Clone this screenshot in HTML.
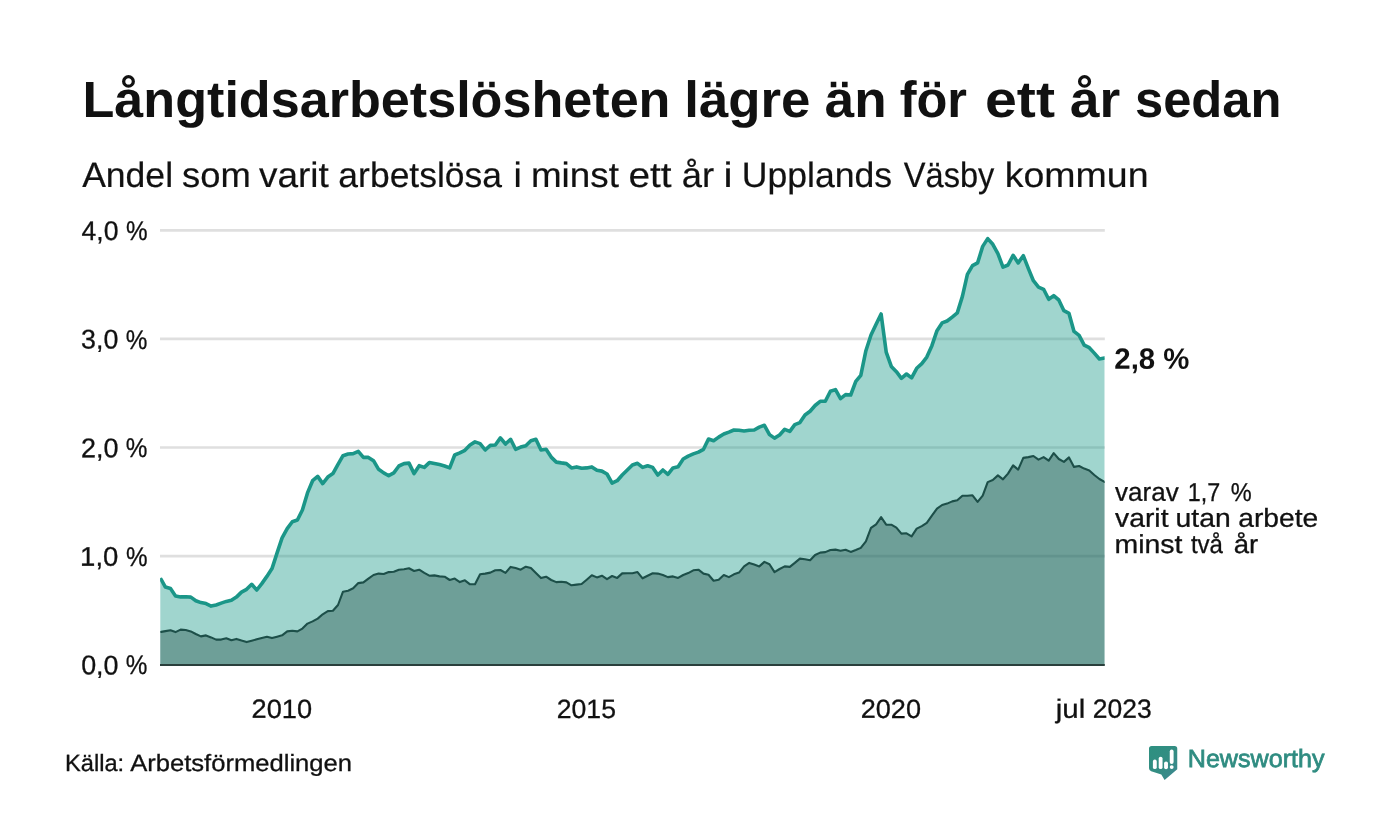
<!DOCTYPE html>
<html lang="sv">
<head>
<meta charset="utf-8">
<title>Långtidsarbetslösheten lägre än för ett år sedan</title>
<style>
html,body{margin:0;padding:0;background:#ffffff;}
body{width:1400px;height:840px;overflow:hidden;font-family:"Liberation Sans", sans-serif;}
svg{display:block;}
svg text{font-family:"Liberation Sans", sans-serif;fill:#111111;text-rendering:geometricPrecision;}
</style>
</head>
<body>
<svg width="1400" height="840" viewBox="0 0 1400 840">
<defs>
<linearGradient id="lg" x1="0" y1="0" x2="1" y2="1">
<stop offset="0" stop-color="#2d9080"/><stop offset="0.55" stop-color="#348d83"/><stop offset="1" stop-color="#3e8792"/>
</linearGradient>
<clipPath id="plot"><rect x="160.1" y="200" width="944.5" height="470"/></clipPath>
</defs>
<rect width="1400" height="840" fill="#ffffff"/>
<line x1="160" x2="1104.8" y1="556.1" y2="556.1" stroke="#dfdfdf" stroke-width="2.7"/>
<line x1="160" x2="1104.8" y1="447.5" y2="447.5" stroke="#dfdfdf" stroke-width="2.7"/>
<line x1="160" x2="1104.8" y1="338.9" y2="338.9" stroke="#dfdfdf" stroke-width="2.7"/>
<line x1="160" x2="1104.8" y1="230.3" y2="230.3" stroke="#dfdfdf" stroke-width="2.7"/>

<path d="M160.3,664.7 L160.3,577.9 L165.4,587.1 L170.5,588.6 L175.5,596.0 L180.6,596.9 L185.7,596.7 L190.8,597.1 L195.8,600.7 L200.9,602.6 L206.0,603.6 L211.1,606.1 L216.1,605.0 L221.2,603.1 L226.3,601.4 L231.4,600.3 L236.4,597.1 L241.5,592.1 L246.6,589.3 L251.7,584.3 L256.8,590.0 L261.8,583.6 L266.9,576.4 L272.0,568.6 L277.1,552.9 L282.1,537.9 L287.2,528.6 L292.3,521.7 L297.4,520.0 L302.4,510.0 L307.5,492.9 L312.6,480.7 L317.7,476.4 L322.7,483.6 L327.8,477.1 L332.9,473.6 L338.0,464.3 L343.0,455.7 L348.1,454.0 L353.2,453.6 L358.3,451.4 L363.4,457.4 L368.4,457.4 L373.5,460.7 L378.6,469.3 L383.7,472.9 L388.7,475.7 L393.8,472.9 L398.9,466.0 L404.0,463.6 L409.0,463.1 L414.1,473.6 L419.2,465.7 L424.3,467.4 L429.3,462.6 L434.4,463.6 L439.5,464.6 L444.6,466.0 L449.7,467.9 L454.7,455.0 L459.8,452.9 L464.9,450.3 L470.0,445.0 L475.0,441.9 L480.1,443.6 L485.2,450.0 L490.3,445.4 L495.3,445.0 L500.4,437.9 L505.5,444.0 L510.6,439.3 L515.6,449.3 L520.7,447.1 L525.8,445.7 L530.9,440.7 L535.9,439.3 L541.0,450.0 L546.1,449.3 L551.2,457.1 L556.3,462.1 L561.3,462.9 L566.4,463.6 L571.5,467.9 L576.6,466.9 L581.6,468.3 L586.7,467.9 L591.8,466.9 L596.9,470.3 L601.9,471.1 L607.0,474.0 L612.1,483.1 L617.2,480.7 L622.2,475.0 L627.3,470.0 L632.4,465.0 L637.5,463.3 L642.6,467.4 L647.6,465.7 L652.7,467.4 L657.8,475.0 L662.9,470.0 L667.9,474.3 L673.0,467.9 L678.1,466.7 L683.2,459.0 L688.2,456.1 L693.3,453.9 L698.4,452.1 L703.5,449.3 L708.5,439.0 L713.6,440.7 L718.7,437.1 L723.8,434.0 L728.9,432.1 L733.9,430.0 L739.0,430.3 L744.1,431.0 L749.2,430.3 L754.2,430.0 L759.3,427.1 L764.4,425.3 L769.5,434.6 L774.5,438.1 L779.6,435.0 L784.7,429.3 L789.8,431.4 L794.8,424.6 L799.9,422.6 L805.0,415.0 L810.1,411.3 L815.1,405.5 L820.2,401.3 L825.3,401.2 L830.4,391.2 L835.5,389.6 L840.5,398.6 L845.6,394.6 L850.7,395.0 L855.8,381.4 L860.8,375.4 L865.9,350.7 L871.0,335.0 L876.1,324.3 L881.1,314.0 L886.2,352.1 L891.3,366.4 L896.4,371.7 L901.4,378.3 L906.5,374.0 L911.6,377.9 L916.7,368.3 L921.8,363.6 L926.8,357.1 L931.9,345.7 L937.0,330.7 L942.1,322.9 L947.1,321.0 L952.2,317.1 L957.3,312.9 L962.4,296.4 L967.4,274.3 L972.5,265.7 L977.6,262.9 L982.7,246.4 L987.7,238.6 L992.8,244.3 L997.9,253.6 L1003.0,267.1 L1008.0,265.0 L1013.1,255.3 L1018.2,262.9 L1023.3,255.7 L1028.4,268.6 L1033.4,280.7 L1038.5,287.1 L1043.6,289.3 L1048.7,299.3 L1053.7,295.7 L1058.8,300.0 L1063.9,310.7 L1069.0,313.4 L1074.0,331.4 L1079.1,335.4 L1084.2,345.1 L1089.3,347.7 L1094.3,353.1 L1099.4,359.0 L1104.5,358.1 L1104.5,664.7 Z" fill="#1d9c8b" fill-opacity="0.42"/>
<path d="M160.3,664.7 L160.3,632.1 L165.4,631.1 L170.5,630.3 L175.5,632.1 L180.6,629.6 L185.7,630.0 L190.8,631.4 L195.8,634.0 L200.9,636.4 L206.0,635.4 L211.1,637.4 L216.1,639.6 L221.2,639.6 L226.3,638.3 L231.4,640.3 L236.4,638.9 L241.5,640.6 L246.6,642.1 L251.7,640.7 L256.8,639.3 L261.8,637.9 L266.9,636.7 L272.0,638.1 L277.1,636.7 L282.1,635.3 L287.2,631.4 L292.3,630.7 L297.4,631.4 L302.4,628.6 L307.5,623.6 L312.6,621.4 L317.7,618.6 L322.7,614.3 L327.8,611.1 L332.9,610.8 L338.0,605.0 L343.0,591.7 L348.1,590.7 L353.2,588.3 L358.3,583.1 L363.4,582.4 L368.4,578.6 L373.5,575.0 L378.6,573.6 L383.7,574.0 L388.7,572.1 L393.8,571.7 L398.9,569.7 L404.0,569.3 L409.0,568.3 L414.1,571.0 L419.2,569.7 L424.3,572.9 L429.3,575.7 L434.4,575.4 L439.5,576.4 L444.6,576.7 L449.7,580.0 L454.7,578.6 L459.8,582.1 L464.9,580.3 L470.0,584.3 L475.0,584.3 L480.1,574.3 L485.2,573.6 L490.3,572.6 L495.3,570.3 L500.4,570.0 L505.5,572.9 L510.6,566.9 L515.6,568.1 L520.7,569.7 L525.8,566.7 L530.9,567.9 L535.9,572.9 L541.0,578.1 L546.1,576.7 L551.2,580.0 L556.3,582.1 L561.3,581.7 L566.4,582.4 L571.5,585.3 L576.6,584.6 L581.6,584.0 L586.7,579.7 L591.8,575.3 L596.9,577.4 L601.9,575.7 L607.0,579.1 L612.1,576.0 L617.2,577.9 L622.2,573.4 L627.3,573.3 L632.4,573.3 L637.5,572.1 L642.6,578.3 L647.6,575.7 L652.7,573.3 L657.8,573.6 L662.9,575.0 L667.9,577.1 L673.0,576.4 L678.1,577.9 L683.2,575.0 L688.2,573.1 L693.3,570.3 L698.4,569.7 L703.5,573.6 L708.5,574.7 L713.6,580.7 L718.7,579.7 L723.8,575.0 L728.9,577.1 L733.9,574.3 L739.0,572.6 L744.1,566.4 L749.2,562.9 L754.2,564.6 L759.3,566.4 L764.4,561.9 L769.5,564.3 L774.5,572.1 L779.6,569.0 L784.7,566.4 L789.8,566.9 L794.8,562.9 L799.9,558.6 L805.0,559.3 L810.1,560.3 L815.1,555.0 L820.2,552.6 L825.3,552.1 L830.4,550.0 L835.5,549.6 L840.5,550.7 L845.6,549.7 L850.7,551.9 L855.8,550.0 L860.8,547.9 L865.9,541.4 L871.0,527.9 L876.1,524.3 L881.1,517.1 L886.2,524.6 L891.3,524.7 L896.4,527.6 L901.4,533.6 L906.5,533.3 L911.6,536.4 L916.7,528.6 L921.8,526.1 L926.8,522.9 L931.9,515.7 L937.0,508.6 L942.1,505.0 L947.1,503.6 L952.2,501.4 L957.3,500.3 L962.4,495.7 L967.4,495.7 L972.5,495.3 L977.6,501.9 L982.7,495.7 L987.7,482.1 L992.8,480.0 L997.9,475.4 L1003.0,479.3 L1008.0,473.6 L1013.1,465.4 L1018.2,469.6 L1023.3,457.9 L1028.4,457.1 L1033.4,456.0 L1038.5,459.6 L1043.6,457.1 L1048.7,460.7 L1053.7,453.1 L1058.8,459.0 L1063.9,461.9 L1069.0,457.4 L1074.0,466.9 L1079.1,466.0 L1084.2,468.6 L1089.3,470.4 L1094.3,475.0 L1099.4,479.0 L1104.5,481.9 L1104.5,664.7 Z" fill="#234d48" fill-opacity="0.4"/>
<polyline points="161.2,579.5 165.4,587.1 170.5,588.6 175.5,596.0 180.6,596.9 185.7,596.7 190.8,597.1 195.8,600.7 200.9,602.6 206.0,603.6 211.1,606.1 216.1,605.0 221.2,603.1 226.3,601.4 231.4,600.3 236.4,597.1 241.5,592.1 246.6,589.3 251.7,584.3 256.8,590.0 261.8,583.6 266.9,576.4 272.0,568.6 277.1,552.9 282.1,537.9 287.2,528.6 292.3,521.7 297.4,520.0 302.4,510.0 307.5,492.9 312.6,480.7 317.7,476.4 322.7,483.6 327.8,477.1 332.9,473.6 338.0,464.3 343.0,455.7 348.1,454.0 353.2,453.6 358.3,451.4 363.4,457.4 368.4,457.4 373.5,460.7 378.6,469.3 383.7,472.9 388.7,475.7 393.8,472.9 398.9,466.0 404.0,463.6 409.0,463.1 414.1,473.6 419.2,465.7 424.3,467.4 429.3,462.6 434.4,463.6 439.5,464.6 444.6,466.0 449.7,467.9 454.7,455.0 459.8,452.9 464.9,450.3 470.0,445.0 475.0,441.9 480.1,443.6 485.2,450.0 490.3,445.4 495.3,445.0 500.4,437.9 505.5,444.0 510.6,439.3 515.6,449.3 520.7,447.1 525.8,445.7 530.9,440.7 535.9,439.3 541.0,450.0 546.1,449.3 551.2,457.1 556.3,462.1 561.3,462.9 566.4,463.6 571.5,467.9 576.6,466.9 581.6,468.3 586.7,467.9 591.8,466.9 596.9,470.3 601.9,471.1 607.0,474.0 612.1,483.1 617.2,480.7 622.2,475.0 627.3,470.0 632.4,465.0 637.5,463.3 642.6,467.4 647.6,465.7 652.7,467.4 657.8,475.0 662.9,470.0 667.9,474.3 673.0,467.9 678.1,466.7 683.2,459.0 688.2,456.1 693.3,453.9 698.4,452.1 703.5,449.3 708.5,439.0 713.6,440.7 718.7,437.1 723.8,434.0 728.9,432.1 733.9,430.0 739.0,430.3 744.1,431.0 749.2,430.3 754.2,430.0 759.3,427.1 764.4,425.3 769.5,434.6 774.5,438.1 779.6,435.0 784.7,429.3 789.8,431.4 794.8,424.6 799.9,422.6 805.0,415.0 810.1,411.3 815.1,405.5 820.2,401.3 825.3,401.2 830.4,391.2 835.5,389.6 840.5,398.6 845.6,394.6 850.7,395.0 855.8,381.4 860.8,375.4 865.9,350.7 871.0,335.0 876.1,324.3 881.1,314.0 886.2,352.1 891.3,366.4 896.4,371.7 901.4,378.3 906.5,374.0 911.6,377.9 916.7,368.3 921.8,363.6 926.8,357.1 931.9,345.7 937.0,330.7 942.1,322.9 947.1,321.0 952.2,317.1 957.3,312.9 962.4,296.4 967.4,274.3 972.5,265.7 977.6,262.9 982.7,246.4 987.7,238.6 992.8,244.3 997.9,253.6 1003.0,267.1 1008.0,265.0 1013.1,255.3 1018.2,262.9 1023.3,255.7 1028.4,268.6 1033.4,280.7 1038.5,287.1 1043.6,289.3 1048.7,299.3 1053.7,295.7 1058.8,300.0 1063.9,310.7 1069.0,313.4 1074.0,331.4 1079.1,335.4 1084.2,345.1 1089.3,347.7 1094.3,353.1 1099.4,359.0 1104.5,358.1" fill="none" stroke="#1b9688" stroke-width="3.6" stroke-linejoin="round" stroke-linecap="round" clip-path="url(#plot)"/>
<polyline points="161.2,631.9 165.4,631.1 170.5,630.3 175.5,632.1 180.6,629.6 185.7,630.0 190.8,631.4 195.8,634.0 200.9,636.4 206.0,635.4 211.1,637.4 216.1,639.6 221.2,639.6 226.3,638.3 231.4,640.3 236.4,638.9 241.5,640.6 246.6,642.1 251.7,640.7 256.8,639.3 261.8,637.9 266.9,636.7 272.0,638.1 277.1,636.7 282.1,635.3 287.2,631.4 292.3,630.7 297.4,631.4 302.4,628.6 307.5,623.6 312.6,621.4 317.7,618.6 322.7,614.3 327.8,611.1 332.9,610.8 338.0,605.0 343.0,591.7 348.1,590.7 353.2,588.3 358.3,583.1 363.4,582.4 368.4,578.6 373.5,575.0 378.6,573.6 383.7,574.0 388.7,572.1 393.8,571.7 398.9,569.7 404.0,569.3 409.0,568.3 414.1,571.0 419.2,569.7 424.3,572.9 429.3,575.7 434.4,575.4 439.5,576.4 444.6,576.7 449.7,580.0 454.7,578.6 459.8,582.1 464.9,580.3 470.0,584.3 475.0,584.3 480.1,574.3 485.2,573.6 490.3,572.6 495.3,570.3 500.4,570.0 505.5,572.9 510.6,566.9 515.6,568.1 520.7,569.7 525.8,566.7 530.9,567.9 535.9,572.9 541.0,578.1 546.1,576.7 551.2,580.0 556.3,582.1 561.3,581.7 566.4,582.4 571.5,585.3 576.6,584.6 581.6,584.0 586.7,579.7 591.8,575.3 596.9,577.4 601.9,575.7 607.0,579.1 612.1,576.0 617.2,577.9 622.2,573.4 627.3,573.3 632.4,573.3 637.5,572.1 642.6,578.3 647.6,575.7 652.7,573.3 657.8,573.6 662.9,575.0 667.9,577.1 673.0,576.4 678.1,577.9 683.2,575.0 688.2,573.1 693.3,570.3 698.4,569.7 703.5,573.6 708.5,574.7 713.6,580.7 718.7,579.7 723.8,575.0 728.9,577.1 733.9,574.3 739.0,572.6 744.1,566.4 749.2,562.9 754.2,564.6 759.3,566.4 764.4,561.9 769.5,564.3 774.5,572.1 779.6,569.0 784.7,566.4 789.8,566.9 794.8,562.9 799.9,558.6 805.0,559.3 810.1,560.3 815.1,555.0 820.2,552.6 825.3,552.1 830.4,550.0 835.5,549.6 840.5,550.7 845.6,549.7 850.7,551.9 855.8,550.0 860.8,547.9 865.9,541.4 871.0,527.9 876.1,524.3 881.1,517.1 886.2,524.6 891.3,524.7 896.4,527.6 901.4,533.6 906.5,533.3 911.6,536.4 916.7,528.6 921.8,526.1 926.8,522.9 931.9,515.7 937.0,508.6 942.1,505.0 947.1,503.6 952.2,501.4 957.3,500.3 962.4,495.7 967.4,495.7 972.5,495.3 977.6,501.9 982.7,495.7 987.7,482.1 992.8,480.0 997.9,475.4 1003.0,479.3 1008.0,473.6 1013.1,465.4 1018.2,469.6 1023.3,457.9 1028.4,457.1 1033.4,456.0 1038.5,459.6 1043.6,457.1 1048.7,460.7 1053.7,453.1 1058.8,459.0 1063.9,461.9 1069.0,457.4 1074.0,466.9 1079.1,466.0 1084.2,468.6 1089.3,470.4 1094.3,475.0 1099.4,479.0 1104.5,481.9" fill="none" stroke="#1d4f49" stroke-width="2.1" stroke-linejoin="round" stroke-linecap="round" clip-path="url(#plot)"/>
<line x1="160" x2="1104.8" y1="665.0" y2="665.0" stroke="#2a3f3c" stroke-width="1.8"/>
<text id="title" y="117.30" font-size="51" font-weight="bold"><tspan id="title_0" x="82.53" textLength="587.95" lengthAdjust="spacingAndGlyphs">Långtidsarbetslösheten</tspan> <tspan id="title_1" x="684.24" textLength="126.19" lengthAdjust="spacingAndGlyphs">lägre</tspan> <tspan id="title_2" x="824.67" textLength="61.97" lengthAdjust="spacingAndGlyphs">än</tspan> <tspan id="title_3" x="899.67" textLength="67.36" lengthAdjust="spacingAndGlyphs">för</tspan> <tspan id="title_4" x="984.95" textLength="70.04" lengthAdjust="spacingAndGlyphs">ett</tspan> <tspan id="title_5" x="1070.03" textLength="50.32" lengthAdjust="spacingAndGlyphs">år</tspan> <tspan id="title_6" x="1134.96" textLength="146.56" lengthAdjust="spacingAndGlyphs">sedan</tspan></text>
<text id="sub" y="187.40" font-size="35.1" stroke="#111111" stroke-width="0.2"><tspan id="sub_0" x="82.15" textLength="90.89" lengthAdjust="spacingAndGlyphs">Andel</tspan> <tspan id="sub_1" x="182.07" textLength="68.77" lengthAdjust="spacingAndGlyphs">som</tspan> <tspan id="sub_2" x="258.97" textLength="69.83" lengthAdjust="spacingAndGlyphs">varit</tspan> <tspan id="sub_3" x="338.39" textLength="163.61" lengthAdjust="spacingAndGlyphs">arbetslösa</tspan> <tspan id="sub_4" x="513.42" textLength="8.33" lengthAdjust="spacingAndGlyphs">i</tspan> <tspan id="sub_5" x="530.98" textLength="87.90" lengthAdjust="spacingAndGlyphs">minst</tspan> <tspan id="sub_6" x="628.45" textLength="43.12" lengthAdjust="spacingAndGlyphs">ett</tspan> <tspan id="sub_7" x="681.88" textLength="32.35" lengthAdjust="spacingAndGlyphs">år</tspan> <tspan id="sub_8" x="723.40" textLength="9.05" lengthAdjust="spacingAndGlyphs">i</tspan> <tspan id="sub_9" x="741.70" textLength="150.38" lengthAdjust="spacingAndGlyphs">Upplands</tspan> <tspan id="sub_10" x="903.84" textLength="90.57" lengthAdjust="spacingAndGlyphs">Väsby</tspan> <tspan id="sub_11" x="1004.66" textLength="143.88" lengthAdjust="spacingAndGlyphs">kommun</tspan></text>
<text id="y0" y="674.40" font-size="27.0" transform="rotate(0.03 114.2 674.4)" stroke="#111111" stroke-width="0.3"><tspan id="y0_0" x="81.17" textLength="37.32" lengthAdjust="spacingAndGlyphs">0,0</tspan> <tspan id="y0_1" x="125.84" textLength="21.63" lengthAdjust="spacingAndGlyphs">%</tspan></text>
<text id="y1" y="565.80" font-size="27.0" transform="rotate(0.03 114.2 565.8)" stroke="#111111" stroke-width="0.3"><tspan id="y1_0" x="80.12" textLength="38.26" lengthAdjust="spacingAndGlyphs">1,0</tspan> <tspan id="y1_1" x="125.91" textLength="21.58" lengthAdjust="spacingAndGlyphs">%</tspan></text>
<text id="y2" y="457.20" font-size="27.0" transform="rotate(0.03 114.2 457.2)" stroke="#111111" stroke-width="0.3"><tspan id="y2_0" x="80.96" textLength="37.45" lengthAdjust="spacingAndGlyphs">2,0</tspan> <tspan id="y2_1" x="125.83" textLength="21.64" lengthAdjust="spacingAndGlyphs">%</tspan></text>
<text id="y3" y="348.60" font-size="27.0" transform="rotate(0.03 114.2 348.6)" stroke="#111111" stroke-width="0.3"><tspan id="y3_0" x="81.09" textLength="37.22" lengthAdjust="spacingAndGlyphs">3,0</tspan> <tspan id="y3_1" x="125.84" textLength="21.63" lengthAdjust="spacingAndGlyphs">%</tspan></text>
<text id="y4" y="240.00" font-size="27.0" transform="rotate(0.03 114.2 240.0)" stroke="#111111" stroke-width="0.3"><tspan id="y4_0" x="81.55" textLength="36.88" lengthAdjust="spacingAndGlyphs">4,0</tspan> <tspan id="y4_1" x="125.99" textLength="21.60" lengthAdjust="spacingAndGlyphs">%</tspan></text>
<text id="x2010" y="717.90" font-size="26.4" transform="rotate(0.03 282.0 717.9)" stroke="#111111" stroke-width="0.3"><tspan id="x2010_0" x="251.57" textLength="60.47" lengthAdjust="spacingAndGlyphs">2010</tspan></text>
<text id="x2015" y="717.90" font-size="26.4" transform="rotate(0.03 586.5 717.9)" stroke="#111111" stroke-width="0.3"><tspan id="x2015_0" x="556.75" textLength="59.18" lengthAdjust="spacingAndGlyphs">2015</tspan></text>
<text id="x2020" y="717.90" font-size="26.4" transform="rotate(0.03 891.2 717.9)" stroke="#111111" stroke-width="0.3"><tspan id="x2020_0" x="860.75" textLength="60.26" lengthAdjust="spacingAndGlyphs">2020</tspan></text>
<text id="xjul" y="717.80" font-size="26.4" transform="rotate(0.03 1102.7 717.8)" stroke="#111111" stroke-width="0.3"><tspan id="xjul_0" x="1055.79" textLength="29.48" lengthAdjust="spacingAndGlyphs">jul</tspan> <tspan id="xjul_1" x="1092.80" textLength="58.83" lengthAdjust="spacingAndGlyphs">2023</tspan></text>
<text id="a28" y="368.70" font-size="29.3" transform="rotate(0.03 1151.9 368.7)" font-weight="bold"><tspan id="a28_0" x="1114.34" textLength="40.88" lengthAdjust="spacingAndGlyphs">2,8</tspan> <tspan id="a28_1" x="1163.21" textLength="26.10" lengthAdjust="spacingAndGlyphs">%</tspan></text>
<text id="a1" y="500.90" font-size="25.9" transform="rotate(0.03 1183.1 500.9)" stroke="#111111" stroke-width="0.3"><tspan id="a1_0" x="1115.06" textLength="63.59" lengthAdjust="spacingAndGlyphs">varav</tspan> <tspan id="a1_1" x="1187.85" textLength="32.42" lengthAdjust="spacingAndGlyphs">1,7</tspan> <tspan id="a1_2" x="1230.83" textLength="20.93" lengthAdjust="spacingAndGlyphs">%</tspan></text>
<text id="a2" y="526.80" font-size="25.9" transform="rotate(0.03 1216.1 526.8)" stroke="#111111" stroke-width="0.3"><tspan id="a2_0" x="1115.13" textLength="53.37" lengthAdjust="spacingAndGlyphs">varit</tspan> <tspan id="a2_1" x="1175.59" textLength="55.13" lengthAdjust="spacingAndGlyphs">utan</tspan> <tspan id="a2_2" x="1238.31" textLength="79.84" lengthAdjust="spacingAndGlyphs">arbete</tspan></text>
<text id="a3" y="553.00" font-size="25.9" transform="rotate(0.03 1187.0 553.0)" stroke="#111111" stroke-width="0.3"><tspan id="a3_0" x="1114.45" textLength="68.05" lengthAdjust="spacingAndGlyphs">minst</tspan> <tspan id="a3_1" x="1190.90" textLength="32.07" lengthAdjust="spacingAndGlyphs">två</tspan> <tspan id="a3_2" x="1233.75" textLength="24.50" lengthAdjust="spacingAndGlyphs">år</tspan></text>
<text id="src" y="771.00" font-size="23.5" transform="rotate(0.03 208.8 771.0)" stroke="#111111" stroke-width="0.3"><tspan id="src_0" x="65.05" textLength="59.14" lengthAdjust="spacingAndGlyphs">Källa:</tspan> <tspan id="src_1" x="130.15" textLength="221.92" lengthAdjust="spacingAndGlyphs">Arbetsförmedlingen</tspan></text>
<g id="logo-mark">
<path d="M1151.6,746 H1174.6 Q1177.25,746 1177.25,748.6 V769.3 L1164.6,780 L1161.3,774.6 L1151.2,771.2 Q1149,770.4 1149,768.2 V748.6 Q1149,746 1151.6,746 Z" fill="url(#lg)"/>
<rect x="1152.9" y="759.5" width="3.85" height="9.6" rx="1.9" fill="#ffffff"/>
<rect x="1158.7" y="756.7" width="3.85" height="12.4" rx="1.9" fill="#ffffff"/>
<rect x="1164.1" y="761.4" width="3.85" height="7.8" rx="1.9" fill="#ffffff"/>
<rect x="1169.75" y="749.6" width="3.85" height="14.4" rx="1.9" fill="#ffffff"/>
<circle cx="1171.7" cy="767.1" r="1.95" fill="#ffffff"/>
</g>
<text id="logo" y="767.00" font-size="24.9" transform="rotate(0.03 1257.1 767.0)" style="fill:#2f8c81" stroke="#2f8c81" stroke-width="0.75" stroke-linejoin="miter"><tspan id="logo_0" x="1187.76" textLength="136.82" lengthAdjust="spacingAndGlyphs">Newsworthy</tspan></text>
</svg>
</body>
</html>
